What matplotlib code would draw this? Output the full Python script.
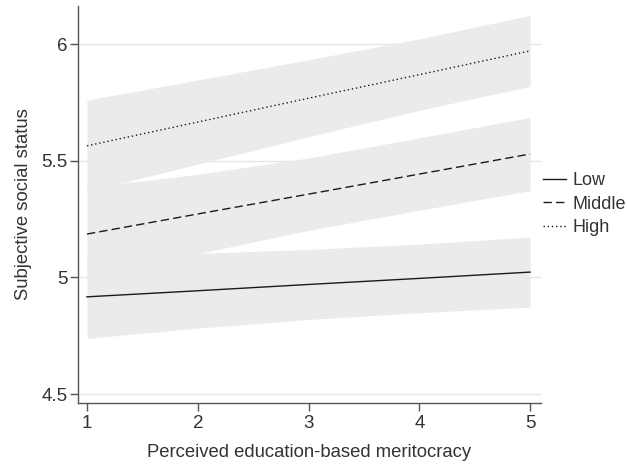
import matplotlib
matplotlib.use("Agg")
import matplotlib.pyplot as plt
from matplotlib.ticker import FuncFormatter

plt.rcParams['font.family'] = ['Liberation Sans', 'DejaVu Sans']

# predicted status by perceived meritocracy, per education group
merit = [1, 2, 3, 4, 5]

low_fit = [4.917, 4.943, 4.970, 4.996, 5.023]
low_hi = [5.095, 5.103, 5.120, 5.143, 5.173]
low_lo = [4.739, 4.783, 4.820, 4.849, 4.873]

mid_fit = [5.186, 5.272, 5.357, 5.443, 5.529]
mid_hi = [5.386, 5.442, 5.512, 5.598, 5.686]
mid_lo = [4.986, 5.102, 5.202, 5.288, 5.372]

high_fit = [5.564, 5.666, 5.768, 5.869, 5.971]
high_hi = [5.760, 5.846, 5.933, 6.022, 6.123]
high_lo = [5.368, 5.486, 5.603, 5.716, 5.819]

groups = ['Low', 'Middle', 'High']
yticks = [4.5, 5, 5.5, 6]

band_col = '#ebebed'
line_col = '#1a1a1a'
text_col = '#333333'
styles = ['-', (0, (6, 3)), (0, (1, 2))]

fig = plt.figure(figsize=(6.27, 4.65), dpi=100)
ax = fig.add_axes([0.1244, 0.1333, 0.7386, 0.8537])

fits = [low_fit, mid_fit, high_fit]
his = [low_hi, mid_hi, high_hi]
los = [low_lo, mid_lo, high_lo]

for lo, hi in zip(los, his):
    ax.fill_between(merit, lo, hi, color=band_col, lw=0, zorder=1)

for fit, ls, name in zip(fits, styles, groups):
    ax.plot(merit, fit, color=line_col, lw=1.0, ls=ls, label=name, zorder=3)

ax.set_xlim(0.919, 5.099)
ax.set_ylim(4.462, 6.163)
ax.set_xticks(merit)
ax.set_yticks(yticks)
ax.yaxis.set_major_formatter(FuncFormatter(lambda v, p: '%g' % v))
ax.grid(axis='y', color='#e6e6e6', lw=1.0, zorder=0)
ax.set_axisbelow(True)

for side in ['top', 'right']:
    ax.spines[side].set_visible(False)
for side in ['left', 'bottom']:
    ax.spines[side].set_color('#555555')
    ax.spines[side].set_linewidth(1.0)

ax.tick_params(axis='both', colors='#555555', length=5.5, width=1.0,
               labelsize=13.5, labelcolor=text_col)
ax.tick_params(axis='y', pad=2)
ax.tick_params(axis='x', pad=3)

ax.set_xlabel('Perceived education-based meritocracy', fontsize=13.3,
              color=text_col, labelpad=9)
ax.set_ylabel('Subjective social status', fontsize=13.3, color=text_col,
              labelpad=7)

fig.legend(loc='center left', bbox_to_anchor=(0.866, 0.561), frameon=False,
           fontsize=13, handlelength=1.27, handletextpad=0.39,
           labelspacing=0.36, borderaxespad=0, borderpad=0,
           labelcolor=text_col)

fig.savefig('out.png', dpi=100)
